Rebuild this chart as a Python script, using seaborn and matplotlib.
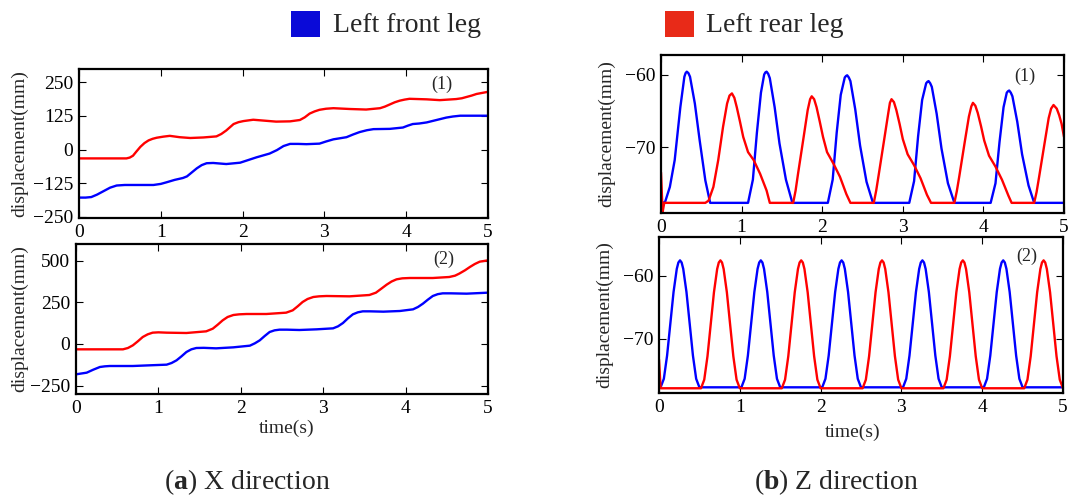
import matplotlib
matplotlib.use("Agg")
import matplotlib.pyplot as plt
from matplotlib.patches import Rectangle
import seaborn as sns

# ---------------- data ----------------
# (a) X direction, panel (1)
xa1_front_t = [0.00, 0.08, 0.15, 0.22, 0.30, 0.38, 0.46, 0.56, 0.66, 0.91, 1.00, 1.07, 1.17, 1.27, 1.32,
               1.36, 1.44, 1.50, 1.56, 1.64, 1.80, 1.97, 2.07, 2.17, 2.33, 2.42, 2.50, 2.58, 2.68,
               2.78, 2.94, 3.02, 3.11, 3.19, 3.27, 3.35, 3.43, 3.52, 3.60, 3.80, 3.96, 4.02, 4.08,
               4.16, 4.25, 4.33, 4.41, 4.49, 4.57, 4.66, 4.74, 5.00]
xa1_front_y = [-179, -179, -177, -168, -155, -142, -134, -132, -132, -132, -128, -122, -113, -106, -100,
               -90, -70, -58, -51, -50, -54, -49, -39, -29, -15, -2, 13, 21, 21,
               20, 22, 30, 38, 42, 46, 56, 65, 72, 76, 77, 82, 89, 95,
               97, 101, 107, 113, 119, 123, 126, 126, 126]
xa1_rear_t = [0.00, 0.58, 0.62, 0.66, 0.70, 0.75, 0.80, 0.85, 0.90, 0.95, 1.03, 1.11, 1.23, 1.36, 1.52,
              1.68, 1.74, 1.80, 1.89, 1.95, 2.01, 2.13, 2.29, 2.41, 2.58, 2.70, 2.76, 2.82, 2.88,
              2.94, 3.02, 3.11, 3.31, 3.51, 3.68, 3.74, 3.80, 3.86, 3.92, 3.98, 4.04, 4.25, 4.41,
              4.61, 4.68, 4.74, 4.80, 4.86, 4.93, 5.00]
xa1_rear_y = [-33, -33, -30, -23, -8, 10, 24, 34, 40, 44, 48, 51, 46, 43, 45,
              49, 58, 71, 95, 102, 106, 111, 107, 104, 105, 110, 120, 134, 142,
              148, 152, 154, 151, 149, 154, 160, 168, 176, 182, 186, 189, 187, 184,
              188, 191, 196, 201, 207, 211, 215]

# (a) X direction, panel (2)
xa2_front_t = [0.00, 0.13, 0.21, 0.29, 0.35, 0.41, 0.69, 0.89, 1.10, 1.16, 1.22, 1.28, 1.34, 1.40, 1.46,
               1.55, 1.70, 1.91, 2.11, 2.17, 2.23, 2.29, 2.35, 2.41, 2.47, 2.56, 2.71, 2.92, 3.12,
               3.18, 3.24, 3.30, 3.36, 3.42, 3.48, 3.57, 3.73, 3.93, 4.09, 4.15, 4.21, 4.27, 4.33,
               4.39, 4.45, 4.55, 4.74, 5.00]
xa2_front_y = [-182, -172, -154, -138, -134, -132, -132, -128, -124, -114, -98, -74, -48, -32, -24,
               -23, -26, -20, -10, 4, 22, 48, 72, 82, 86, 86, 84, 88, 94,
               106, 126, 154, 178, 190, 196, 196, 194, 198, 208, 222, 242, 266, 288,
               299, 304, 304, 302, 308]
xa2_rear_t = [0.00, 0.57, 0.63, 0.69, 0.75, 0.81, 0.87, 0.93, 1.00, 1.10, 1.34, 1.58, 1.66, 1.72, 1.78,
              1.84, 1.91, 1.98, 2.07, 2.31, 2.55, 2.63, 2.69, 2.75, 2.81, 2.88, 2.95, 3.04, 3.32,
              3.56, 3.64, 3.70, 3.77, 3.83, 3.89, 3.96, 4.05, 4.33, 4.53, 4.60, 4.65, 4.72, 4.78,
              4.84, 4.90, 5.00]
xa2_rear_y = [-32, -32, -24, -8, 16, 42, 58, 68, 70, 68, 66, 76, 92, 116, 142,
              162, 174, 178, 180, 180, 188, 202, 226, 252, 270, 282, 286, 288, 286,
              294, 308, 330, 356, 375, 388, 394, 396, 396, 402, 410, 422, 442, 462,
              480, 494, 502]

# (b) Z direction, panel (1)
zb1_front_t = [0.01, 0.05, 0.11, 0.17, 0.24, 0.29, 0.305, 0.32, 0.34, 0.36, 0.42, 0.48, 0.55, 0.61,
               1.08, 1.14, 1.19, 1.24, 1.28, 1.295, 1.31, 1.33, 1.35, 1.41, 1.47, 1.55, 1.63,
               2.07, 2.13, 2.18, 2.23, 2.28, 2.295, 2.31, 2.33, 2.35, 2.41, 2.47, 2.55, 2.63,
               3.08, 3.14, 3.19, 3.24, 3.29, 3.305, 3.32, 3.34, 3.36, 3.42, 3.48, 3.56, 3.64,
               4.09, 4.15, 4.20, 4.25, 4.29, 4.305, 4.32, 4.34, 4.36, 4.42, 4.48, 4.56, 4.63,
               5.00]
zb1_front_y = [-77.7, -77.6, -75.5, -71.8, -64.5, -60.3, -59.8, -59.6, -59.8, -60.3, -64.0, -69.1, -74.6, -77.7,
               -77.7, -74.5, -68.0, -62.5, -60.0, -59.7, -59.6, -59.9, -60.5, -64.5, -69.5, -74.5, -77.7,
               -77.7, -74.5, -68.0, -62.8, -60.4, -60.2, -60.1, -60.4, -60.9, -64.8, -69.8, -74.8, -77.7,
               -77.7, -74.7, -68.5, -63.5, -61.2, -61.0, -60.9, -61.2, -61.7, -65.4, -70.2, -75.0, -77.7,
               -77.7, -75.0, -69.3, -64.5, -62.5, -62.3, -62.2, -62.5, -63.0, -66.5, -71.0, -75.3, -77.7,
               -77.7]
zb1_rear_t = [0.00, 0.02, 0.04,
              0.55, 0.59, 0.65, 0.71, 0.77, 0.82, 0.85, 0.88, 0.91, 0.94, 0.98, 1.02, 1.08, 1.15, 1.23, 1.31, 1.35,
              1.64, 1.67, 1.70, 1.77, 1.82, 1.85, 1.87, 1.90, 1.93, 1.97, 2.01, 2.06, 2.14, 2.22, 2.30, 2.35,
              2.64, 2.67, 2.70, 2.77, 2.82, 2.84, 2.86, 2.89, 2.92, 2.96, 3.00, 3.06, 3.14, 3.22, 3.30, 3.35,
              3.64, 3.67, 3.70, 3.77, 3.82, 3.85, 3.87, 3.90, 3.93, 3.97, 4.01, 4.07, 4.15, 4.23, 4.31, 4.35,
              4.63, 4.66, 4.69, 4.76, 4.81, 4.84, 4.87, 4.91, 4.94, 4.97, 5.00]
zb1_rear_y = [-73.5, -79.0, -77.7,
              -77.7, -77.4, -75.5, -71.8, -67.2, -64.0, -62.9, -62.6, -63.2, -64.5, -66.5, -68.6, -70.7, -71.8, -73.7, -76.0, -77.7,
              -77.7, -76.0, -73.7, -68.6, -64.9, -63.4, -63.0, -63.4, -64.5, -66.5, -68.6, -70.7, -72.3, -74.1, -76.5, -77.7,
              -77.7, -76.0, -73.9, -68.9, -65.3, -63.9, -63.4, -63.8, -64.9, -66.8, -68.9, -71.0, -72.5, -74.3, -76.6, -77.7,
              -77.7, -76.1, -74.1, -69.2, -65.8, -64.4, -63.9, -64.3, -65.3, -67.1, -69.1, -71.2, -72.7, -74.5, -76.7, -77.7,
              -77.7, -76.2, -74.2, -69.4, -66.0, -64.7, -64.2, -64.7, -65.6, -66.8, -68.6]

# (b) Z direction, panel (2)
zb2_front_t = [0.00,
               0.02, 0.06, 0.10, 0.14, 0.18, 0.22, 0.24, 0.26, 0.28, 0.30, 0.34, 0.38, 0.42, 0.46, 0.50,
               1.02, 1.06, 1.10, 1.14, 1.18, 1.22, 1.24, 1.26, 1.28, 1.30, 1.34, 1.38, 1.42, 1.46, 1.50,
               2.02, 2.06, 2.10, 2.14, 2.18, 2.22, 2.24, 2.26, 2.28, 2.30, 2.34, 2.38, 2.42, 2.46, 2.50,
               3.02, 3.06, 3.10, 3.14, 3.18, 3.22, 3.24, 3.26, 3.28, 3.30, 3.34, 3.38, 3.42, 3.46, 3.50,
               4.02, 4.06, 4.10, 4.14, 4.18, 4.22, 4.24, 4.26, 4.28, 4.30, 4.34, 4.38, 4.42, 4.46, 4.50,
               5.00]
zb2_front_y = [-77.7,
               -77.7, -76.35, -72.68, -67.65, -62.62, -58.95, -57.94, -57.6, -57.94, -58.95, -62.62, -67.65, -72.68, -76.35, -77.7,
               -77.7, -76.35, -72.68, -67.65, -62.62, -58.95, -57.94, -57.6, -57.94, -58.95, -62.62, -67.65, -72.68, -76.35, -77.7,
               -77.7, -76.35, -72.68, -67.65, -62.62, -58.95, -57.94, -57.6, -57.94, -58.95, -62.62, -67.65, -72.68, -76.35, -77.7,
               -77.7, -76.35, -72.68, -67.65, -62.62, -58.95, -57.94, -57.6, -57.94, -58.95, -62.62, -67.65, -72.68, -76.35, -77.7,
               -77.7, -76.35, -72.68, -67.65, -62.62, -58.95, -57.94, -57.6, -57.94, -58.95, -62.62, -67.65, -72.68, -76.35, -77.7,
               -77.7]
zb2_rear_t = [0.00, 0.02,
              0.52, 0.56, 0.60, 0.64, 0.68, 0.72, 0.74, 0.76, 0.78, 0.80, 0.84, 0.88, 0.92, 0.96, 1.00,
              1.52, 1.56, 1.60, 1.64, 1.68, 1.72, 1.74, 1.76, 1.78, 1.80, 1.84, 1.88, 1.92, 1.96, 2.00,
              2.52, 2.56, 2.60, 2.64, 2.68, 2.72, 2.74, 2.76, 2.78, 2.80, 2.84, 2.88, 2.92, 2.96, 3.00,
              3.52, 3.56, 3.60, 3.64, 3.68, 3.72, 3.74, 3.76, 3.78, 3.80, 3.84, 3.88, 3.92, 3.96, 4.00,
              4.52, 4.56, 4.60, 4.64, 4.68, 4.72, 4.74, 4.76, 4.78, 4.80, 4.84, 4.88, 4.92, 4.96, 5.00]
zb2_rear_y = [-73.3, -77.85,
              -77.85, -76.49, -72.79, -67.73, -62.66, -58.96, -57.94, -57.6, -57.94, -58.96, -62.66, -67.73, -72.79, -76.49, -77.85,
              -77.85, -76.49, -72.79, -67.73, -62.66, -58.96, -57.94, -57.6, -57.94, -58.96, -62.66, -67.73, -72.79, -76.49, -77.85,
              -77.85, -76.49, -72.79, -67.73, -62.66, -58.96, -57.94, -57.6, -57.94, -58.96, -62.66, -67.73, -72.79, -76.49, -77.85,
              -77.85, -76.49, -72.79, -67.73, -62.66, -58.96, -57.94, -57.6, -57.94, -58.96, -62.66, -67.73, -72.79, -76.49, -77.85,
              -77.85, -76.49, -72.79, -67.73, -62.66, -58.96, -57.94, -57.6, -57.94, -58.96, -62.66, -67.73, -72.79, -76.49, -77.85]

x_ticks = [0, 1, 2, 3, 4, 5]
yt_a1 = [-250, -125, 0, 125, 250]
yt_a2 = [-250, 0, 250, 500]
yt_b = [-70, -60]
legend_labels = ["Left front leg", "Left rear leg"]
panel_labels = ["(1)", "(2)"]
captions = [r"($\mathbf{a}$) X direction", r"($\mathbf{b}$) Z direction"]
ylabel_text = "displacement(mm)"
xlabel_text = "time(s)"

# ---------------- style ----------------
sns.set_style("ticks")
plt.rcParams["font.family"] = ["Liberation Serif", "DejaVu Serif"]
plt.rcParams["mathtext.fontset"] = "custom"
plt.rcParams["mathtext.rm"] = "Liberation Serif"
plt.rcParams["mathtext.bf"] = "Liberation Serif:bold"
plt.rcParams["axes.unicode_minus"] = True

BLUE = "#0000ff"
RED = "#ff0000"
LEG_BLUE = "#0a0ad8"
LEG_RED = "#e82a18"

fig = plt.figure(figsize=(10.69, 4.99), dpi=100)

W, H = 1069.0, 499.0
def px_axes(l, t, r, b):
    return fig.add_axes([l / W, 1 - b / H, (r - l) / W, (b - t) / H])

ax_tl = px_axes(79, 69, 488, 218)
ax_bl = px_axes(76, 244, 488, 394)
ax_tr = px_axes(661, 55, 1064, 213)
ax_br = px_axes(659, 237, 1063, 393)

panels = [
    (ax_tl, xa1_front_t, xa1_front_y, xa1_rear_t, xa1_rear_y, (-255, 300), yt_a1, panel_labels[0], (0.888, 0.90), -0.125, None),
    (ax_bl, xa2_front_t, xa2_front_y, xa2_rear_t, xa2_rear_y, (-300, 600), yt_a2, panel_labels[1], (0.893, 0.897), -0.117, (0.51, -0.173)),
    (ax_tr, zb1_front_t, zb1_front_y, zb1_rear_t, zb1_rear_y, (-79.1, -57.3), yt_b, panel_labels[0], (0.903, 0.867), -0.114, None),
    (ax_br, zb2_front_t, zb2_front_y, zb2_rear_t, zb2_rear_y, (-78.6, -53.9), yt_b, panel_labels[1], (0.911, 0.878), -0.114, (0.478, -0.199)),
]

for ax, ft, fy, rt, ry, ylim, yt, plab, plab_pos, ylx, xlab in panels:
    sns.lineplot(x=ft, y=fy, ax=ax, color=BLUE, linewidth=1.7, estimator=None, sort=False)
    sns.lineplot(x=rt, y=ry, ax=ax, color=RED, linewidth=1.7, estimator=None, sort=False)
    ax.set_xlim(0, 5)
    ax.set_ylim(*ylim)
    ax.set_xticks(x_ticks)
    ax.set_yticks(yt)
    ax.tick_params(direction="in", length=5, width=0.8, top=True, right=True,
                   labelsize=14, pad=4, colors="black")
    for sp in ax.spines.values():
        sp.set_visible(True)
        sp.set_linewidth(1.6)
        sp.set_color("black")
    ax.set_ylabel(ylabel_text, fontsize=14)
    ax.yaxis.set_label_coords(ylx, 0.5)
    if xlab is not None:
        ax.set_xlabel(xlabel_text, fontsize=14)
        ax.xaxis.set_label_coords(*xlab)
    else:
        ax.set_xlabel("")
    ax.text(plab_pos[0], plab_pos[1], plab, transform=ax.transAxes,
            ha="center", va="center", fontsize=13)

# legend (figure level)
fig.add_artist(Rectangle((291 / W, 1 - 37 / H), 29 / W, 26 / H, transform=fig.transFigure,
                         facecolor=LEG_BLUE, edgecolor="none"))
fig.text(333 / W, 1 - 25 / H, legend_labels[0], ha="left", va="center", fontsize=20)
fig.add_artist(Rectangle((665 / W, 1 - 37 / H), 29 / W, 26 / H, transform=fig.transFigure,
                         facecolor=LEG_RED, edgecolor="none"))
fig.text(706 / W, 1 - 25 / H, legend_labels[1], ha="left", va="center", fontsize=20)

# captions
fig.text(247.5 / W, 1 - 482 / H, captions[0], ha="center", va="center", fontsize=20)
fig.text(836 / W, 1 - 482 / H, captions[1], ha="center", va="center", fontsize=20)

fig.savefig("out.png", dpi=100)
